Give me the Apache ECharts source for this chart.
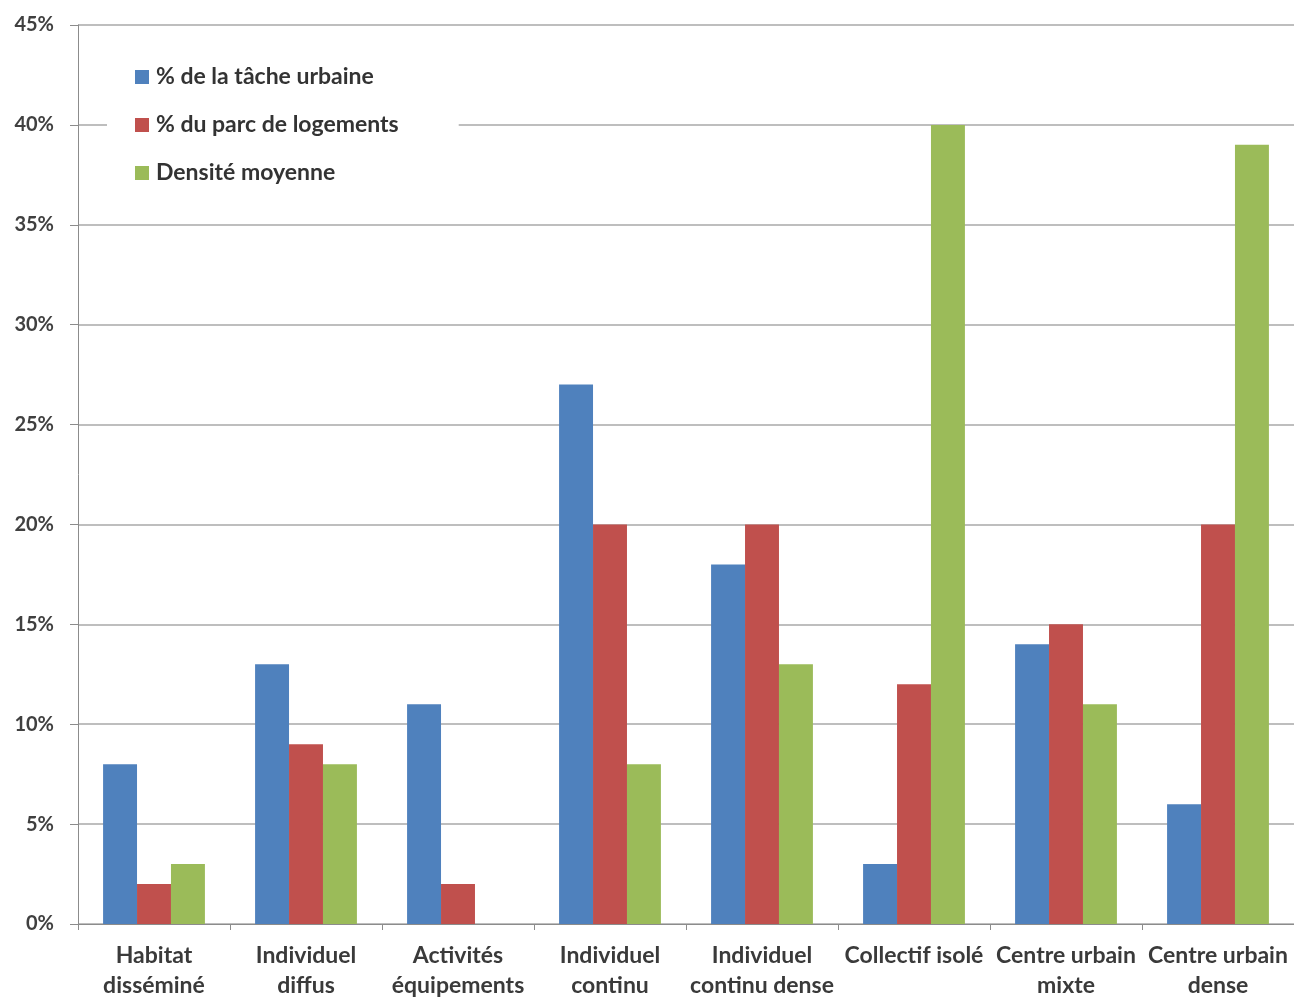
<!DOCTYPE html>
<html>
<head>
<meta charset="utf-8">
<script src="https://cdn.jsdelivr.net/npm/echarts@6/dist/echarts.min.js"></script>
<style>
  html, body { margin: 0; padding: 0; background: #fff; }
  #chart { width: 1294px; height: 1001px; }
</style>
</head>
<body>
<div id="chart"></div>
<script>
const categories = [
  'Habitat\ndisséminé',
  'Individuel\ndiffus',
  'Activités\néquipements',
  'Individuel\ncontinu',
  'Individuel\ncontinu dense',
  'Collectif isolé',
  'Centre urbain\nmixte',
  'Centre urbain\ndense'
];
const tacheUrbaine = [8, 13, 11, 27, 18, 3, 14, 6];
const parcLogements = [2, 9, 2, 20, 20, 12, 15, 20];
const densiteMoyenne = [3, 8, 0, 8, 13, 40, 11, 39];
const seriesNames = ['% de la tâche urbaine', '% du parc de logements', 'Densité moyenne'];
const seriesColors = ['#4F81BD', '#C0504D', '#9BBB59'];

const fontFamily = 'Lato, "Open Sans", sans-serif';
const chart = echarts.init(document.getElementById('chart'));

const values = [tacheUrbaine, parcLogements, densiteMoyenne];

chart.setOption({
  animation: false,
  backgroundColor: '#ffffff',
  grid: { left: 78, right: 0, top: 25, bottom: 72 },
  legend: {
    orient: 'vertical',
    left: 107,
    top: 55,
    padding: [10, 60, 10, 28],
    backgroundColor: '#ffffff',
    itemWidth: 14,
    itemHeight: 14,
    itemGap: 24,
    icon: 'rect',
    textStyle: { fontFamily, fontSize: 23, lineHeight: 24, fontWeight: 'bold', color: '#333333', padding: [0, 0, 0, 2] },
    data: seriesNames
  },
  xAxis: {
    type: 'category',
    data: categories,
    axisLine: { lineStyle: { color: '#8c8c8c', width: 1 } },
    axisTick: { show: true, length: 6, lineStyle: { color: '#8c8c8c' } },
    axisLabel: {
      fontFamily, fontSize: 23, fontWeight: 'bold', color: '#3a3a3a',
      lineHeight: 30, margin: 17, interval: 0
    }
  },
  yAxis: {
    type: 'value',
    min: 0,
    max: 45,
    interval: 5,
    axisLine: { show: true, lineStyle: { color: '#8c8c8c', width: 1 } },
    axisTick: { show: true, length: 8, lineStyle: { color: '#8c8c8c' } },
    axisLabel: {
      fontFamily, fontSize: 20, fontWeight: 'bold', color: '#404040',
      margin: 24, formatter: '{value}%'
    },
    splitLine: { lineStyle: { color: '#a8a8a8', width: 1.5 } }
  },
  series: seriesNames.map((name, i) => ({
    name,
    type: 'bar',
    data: values[i],
    barGap: '0%',
    barCategoryGap: '33%',
    itemStyle: { color: seriesColors[i] }
  }))
});
</script>
</body>
</html>
